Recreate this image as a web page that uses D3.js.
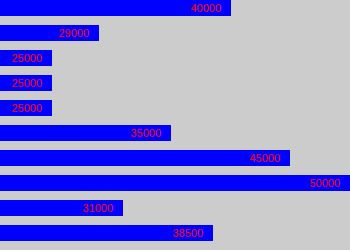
<!DOCTYPE html>
<html>
<head>
<meta charset="utf-8">
<script src="https://cdn.jsdelivr.net/npm/d3@7"></script>
<style>
  html, body { margin: 0; padding: 0; background: #cccccc; }
  svg { display: block; }
</style>
</head>
<body>
<div id="chart"></div>
<script>
// Salary-like horizontal bars, values labelled at bar end
const categories = ['a', 'b', 'c', 'd', 'e', 'f', 'g', 'h', 'i', 'j'];
const values = [40000, 29000, 25000, 25000, 25000, 35000, 45000, 50000, 31000, 38500];

(function() {
  const width = 350;
  const height = 250;

  const svg = d3.select('#chart')
    .append('svg')
    .attr('width', width)
    .attr('height', height);

  svg.append('rect')
    .attr('width', width)
    .attr('height', height)
    .attr('fill', '#cccccc');

  // Scale does not start at zero in the original
  const x = d3.scaleLinear()
    .domain([20667, 50000])
    .range([0, width]);

  const y = d3.scaleBand()
    .domain(categories)
    .range([0, 241])
    .paddingInner(0.36)
    .paddingOuter(0);

  const rows = categories.map((c, i) => ({ cat: c, value: values[i] }));

  svg.selectAll('.bar')
    .data(rows)
    .enter()
    .append('rect')
    .attr('class', 'bar')
    .attr('x', 0)
    .attr('y', d => y(d.cat))
    .attr('width', d => Math.round(x(d.value)))
    .attr('height', y.bandwidth())
    .attr('fill', '#0000ff');

  svg.selectAll('.label')
    .data(rows)
    .enter()
    .append('text')
    .attr('class', 'label')
    .attr('x', d => Math.round(x(d.value)) - 10)
    .attr('y', d => y(d.cat) + 12)
    .attr('text-anchor', 'end')
    .style('font-family', '"Liberation Sans", Arial, sans-serif')
    .style('font-size', '11px')
    .style('fill', '#ff0000')
    .text(d => d.value);
})();
</script>
</body>
</html>
